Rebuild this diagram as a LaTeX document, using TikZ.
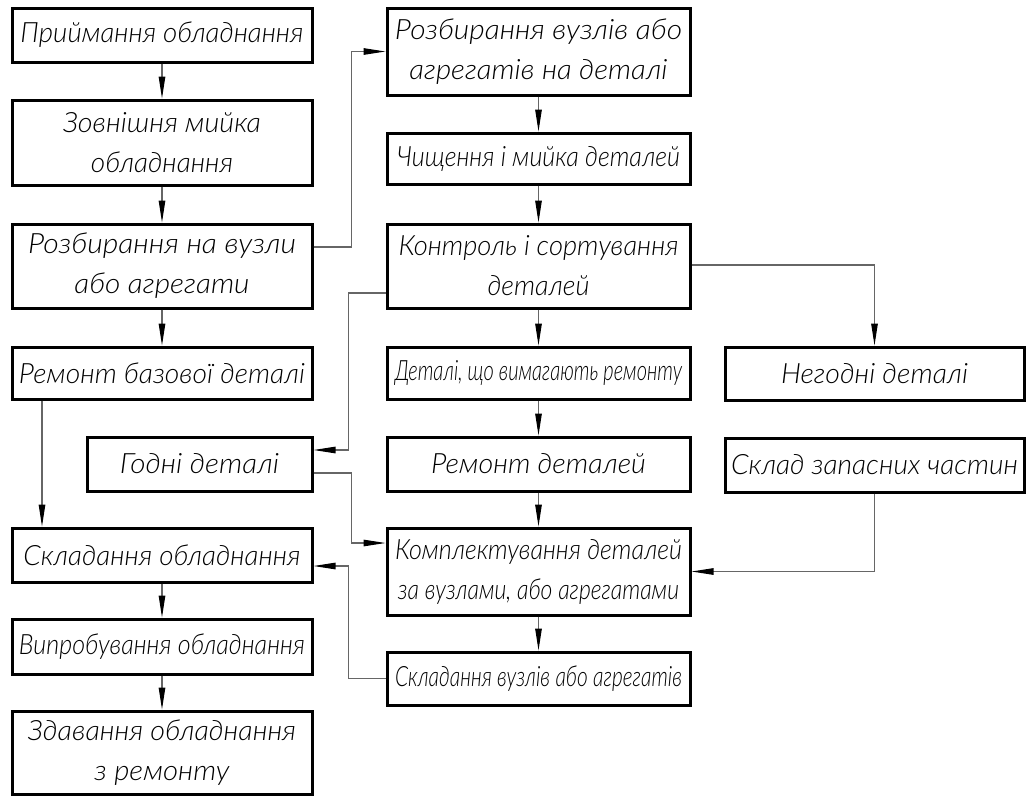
\documentclass[tikz,border=0pt]{standalone}
\usepackage{fontspec}
\setmainfont{Lato Light}[ItalicFont={Lato Light Italic}]
\usepackage{graphicx}
\usetikzlibrary{arrows.meta,positioning}
\newcommand\fitl[2]{\resizebox{#1pt}{\height}{#2}}
\tikzset{
  box/.style={draw=black, line width=3pt, rectangle, inner sep=0pt,
    align=center, font=\fontsize{28}{40}\selectfont\itshape},
  conn/.style={draw=black!60, line width=1.1pt,
    -{Stealth[length=22pt,width=6.5pt,inset=0pt,color=black]}},
}
\begin{document}
\begin{tikzpicture}[x=1pt,y=-1pt]
\useasboundingbox (0,0) rectangle (1026,796);
% left column
\node[box, minimum width=300pt, minimum height=54pt] (L1) at (162,35) {\fitl{283}{Приймання обладнання}};
\node[box, minimum width=300pt, minimum height=85pt] (L2) at (162,142.5) {\fitl{198}{Зовнішня мийка}\\\fitl{142}{обладнання}};
\node[box, minimum width=300pt, minimum height=84pt] (L3) at (162,266) {\fitl{268}{Розбирання на вузли}\\\fitl{175}{або агрегати}};
\node[box, minimum width=300pt, minimum height=52pt] (L4) at (162,373) {\fitl{286}{Ремонт базової деталі}};
\node[box, minimum width=225pt, minimum height=54pt] (G) at (199.5,464) {\fitl{159}{Годні деталі}};
\node[box, minimum width=300pt, minimum height=54pt] (L5) at (162,555) {\fitl{277}{Складання обладнання}};
\node[box, minimum width=300pt, minimum height=55pt] (L6) at (162,646.5) {\fitl{286}{Випробування обладнання}};
\node[box, minimum width=300pt, minimum height=83pt] (L7) at (162,752.5) {\fitl{268}{Здавання обладнання}\\\fitl{135}{з ремонту}};
% middle column
\node[box, minimum width=303pt, minimum height=87pt] (M1) at (538.5,51.5) {\fitl{287}{Розбирання вузлів або}\\\fitl{258}{агрегатів на деталі}};
\node[box, minimum width=303pt, minimum height=51pt] (M2) at (538.5,158.5) {\fitl{283}{Чищення і мийка деталей}};
\node[box, minimum width=303pt, minimum height=84pt] (M3) at (538.5,266) {\fitl{280}{Контроль і сортування}\\\fitl{102}{деталей}};
\node[box, minimum width=303pt, minimum height=52pt] (M4) at (538.5,373) {\fitl{287}{Деталі, що вимагають ремонту}};
\node[box, minimum width=303pt, minimum height=54pt] (M5) at (538.5,464) {\fitl{215}{Ремонт деталей}};
\node[box, minimum width=303pt, minimum height=87pt] (M6) at (538.5,571.5) {\fitl{287}{Комплектування деталей}\\\fitl{281}{за вузлами, або агрегатами}};
\node[box, minimum width=303pt, minimum height=53pt] (M7) at (538.5,678.5) {\fitl{287}{Складання вузлів або агрегатів}};
% right column
\node[box, minimum width=299pt, minimum height=53pt] (R1) at (874.5,373.5) {\fitl{187}{Негодні деталі}};
\node[box, minimum width=299pt, minimum height=54pt] (R2) at (874.5,465) {\fitl{287}{Склад запасних частин}};
% vertical flow arrows
\foreach \a/\b in {L1/L2,L2/L3,L3/L4,L5/L6,L6/L7,M1/M2,M2/M3,M3/M4,M4/M5,M5/M6,M6/M7}
  \draw[conn] (\a.south) -- (\b.north);
% side connectors
\draw[conn] ([yshift=19pt]L3.east) -- ++(38,0) |- (M1.west);
\draw[conn] ([yshift=-27pt]M3.west) -- ++(-37,0) |- ([yshift=14pt]G.east);
\draw[conn] ([yshift=-9pt]G.east) -- ++(38,0) |- ([yshift=28.5pt]M6.west);
\draw[conn] (M7.west) -- ++(-37,0) |- ([yshift=-11pt]L5.east);
\draw[conn] ([xshift=-120pt]L4.south) -- ([xshift=-120pt]L5.north);
\draw[conn] ([yshift=1pt]M3.east) -| (R1.north);
\draw[conn] (R2.south) |- (M6.east);
\end{tikzpicture}
\end{document}
